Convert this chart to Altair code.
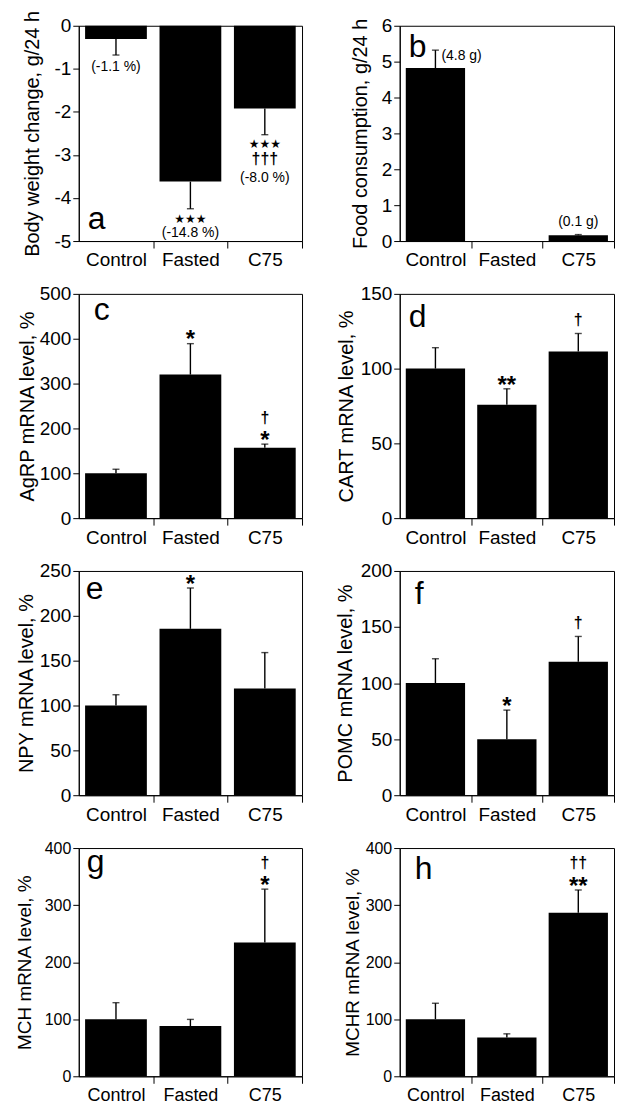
import altair as alt
import pandas as pd

groups = ["Control", "Fasted", "C75"]

bw_mean = [-0.31, -3.62, -1.92]
bw_sem = [0.37, 0.63, 0.61]
food_mean = [4.82, 0.0, 0.16]
food_sem = [0.50, 0.0, 0.02]
agrp_mean = [100, 320, 157]
agrp_sem = [9, 69, 8]
cart_mean = [100, 75.8, 111.5]
cart_sem = [14, 10.7, 12]
npy_mean = [100, 185.5, 119]
npy_sem = [12, 45.5, 40]
pomc_mean = [100, 50, 119]
pomc_sem = [21.7, 25.9, 22.6]
mch_mean = [100, 88, 234.5]
mch_sem = [29, 11.7, 93.5]
mchr_mean = [100, 68, 286.5]
mchr_sem = [28, 6.4, 40]

titles = ["Body weight change, g/24 h", "Food consumption, g/24 h",
          "AgRP mRNA level, %", "CART mRNA level, %",
          "NPY mRNA level, %", "POMC mRNA level, %",
          "MCH mRNA level, %", "MCHR mRNA level, %"]
letters = ["a", "b", "c", "d", "e", "f", "g", "h"]
domains = [[-5, 0], [0, 6], [0, 500], [0, 150], [0, 250], [0, 200], [0, 400], [0, 400]]
ticks = [[-5, -4, -3, -2, -1, 0], [0, 1, 2, 3, 4, 5, 6],
         [0, 100, 200, 300, 400, 500], [0, 50, 100, 150],
         [0, 50, 100, 150, 200, 250], [0, 50, 100, 150, 200],
         [0, 100, 200, 300, 400], [0, 100, 200, 300, 400]]

annots = [
    {"Control": ["(-1.1 %)"], "Fasted": ["★★★", "(-14.8 %)"], "C75": ["★★★", "†††", "(-8.0 %)"]},
    {"C75": ["(0.1 g)"]},
    {"Fasted": ["*"], "C75": ["*", "†"]},
    {"Fasted": ["**"], "C75": ["†"]},
    {"Fasted": ["*"]},
    {"Fasted": ["*"], "C75": ["†"]},
    {"C75": ["*", "†"]},
    {"C75": ["**", "††"]},
]
side_annots = [{}, {"Control": "(4.8 g)"}, {}, {}, {}, {}, {}, {}]

means = [bw_mean, food_mean, agrp_mean, cart_mean, npy_mean, pomc_mean, mch_mean, mchr_mean]
sems = [bw_sem, food_sem, agrp_sem, cart_sem, npy_sem, pomc_sem, mch_sem, mchr_sem]

# ---- styling ----
FONT = "Liberation Sans"
LEFT_W, RIGHT_W = 224, 215
heights = [216, 225, 225, 229]
title_pad = [12, 11, 2, 4, 3, 5, 10, 3]
letter_pos = [(9, 204), (9, 31), (15, 26), (9, 33), (7, 28), (15, 33), (8, 24), (15, 31)]

kinds = {
    "star": dict(font="DejaVu Sans", size=12, weight="normal", h=7, cf=0.36),
    "ast": dict(font=FONT, size=24, weight="bold", h=8, cf=0.575),
    "dag": dict(font=FONT, size=16, weight="bold", h=13, cf=0.27),
    "pct": dict(font=FONT, size=14, weight="normal", h=13, cf=0.26),
}


def kind_of(t):
    if "★" in t:
        return "star"
    if "*" in t:
        return "ast"
    if "†" in t:
        return "dag"
    return "pct"


def make_panel(i):
    n = len(groups)
    mean, sem = means[i], sems[i]
    sign = -1 if min(mean) < 0 else 1
    df = pd.DataFrame({"group": groups, "mean": mean, "sem": sem})
    df["end"] = df["mean"] + sign * df["sem"]
    w = LEFT_W if i % 2 == 0 else RIGHT_W
    h = heights[i // 2]
    row4 = i >= 6
    pI, pO = 0.17, 0.085
    step = w / (n - pI + 2 * pO)
    gap = pI * step

    xaxis = alt.Axis(title=None, labelAngle=0, labelFontSize=18 if row4 else 19,
                     labelPadding=3, tickSize=7, bandPosition=1,
                     tickOffset=gap / 2, labelOffset=-gap / 2, labelOverlap=False)
    yargs = dict(title=titles[i], values=ticks[i], grid=False, tickSize=6,
                 labelPadding=2, labelFontSize=16 if row4 else 19,
                 titleFontSize=19 if row4 else 20, titlePadding=title_pad[i],
                 titleFontWeight="normal")
    if sign < 0:
        yargs["labelExpr"] = "toString(datum.value)"
    yaxis = alt.Axis(**yargs)
    xs = alt.Scale(paddingInner=pI, paddingOuter=pO)
    ys = alt.Scale(domain=domains[i], nice=False)

    def X():
        return alt.X("group:N", sort=groups, scale=xs, axis=xaxis)

    def Y(f):
        return alt.Y(f"{f}:Q", scale=ys, axis=yaxis)

    base = alt.Chart(df)
    bars = base.mark_bar(color="black").encode(x=X(), y=Y("mean"))
    dfe = df[df["sem"] > 0]
    err = alt.Chart(dfe).mark_rule(color="black", strokeWidth=1.4).encode(
        x=X(), y=Y("mean"), y2="end:Q")
    cap = alt.Chart(dfe).mark_tick(color="black", thickness=1.4, size=7).encode(
        x=X(), y=Y("end"))
    layers = [bars, err, cap]

    for g, lines in annots[i].items():
        row = df[df["group"] == g]
        off = 6.0
        prev = None
        for t in lines:
            k = kinds[kind_of(t)]
            if prev is None:
                off = 6.0 + k["h"] / 2
            else:
                off = off + prev["h"] / 2 + 5.5 + k["h"] / 2
            prev = k
            dy = (-off if sign > 0 else off) + k["cf"] * k["size"]
            tdf = row.assign(label=t)
            layers.append(alt.Chart(tdf).mark_text(
                baseline="alphabetic", align="center", dy=dy, font=k["font"],
                fontSize=k["size"], fontWeight=k["weight"], color="black").encode(
                x=X(), y=Y("end"), text="label:N"))
    for g, t in side_annots[i].items():
        row = df[df["group"] == g].assign(label=t)
        layers.append(alt.Chart(row).mark_text(
            baseline="middle", align="left", dx=6, dy=6, font=FONT, fontSize=14,
            color="black").encode(x=X(), y=Y("end"), text="label:N"))

    lx, ly = letter_pos[i]
    layers.append(alt.Chart(pd.DataFrame({"t": [letters[i]]})).mark_text(
        align="left", baseline="alphabetic", font=FONT, fontSize=32,
        color="black").encode(text="t:N", x=alt.value(lx), y=alt.value(ly)))
    return alt.layer(*layers).properties(width=w, height=h)


panels = [make_panel(i) for i in range(8)]

chart = alt.concat(*panels, columns=2, spacing={"row": 53, "column": 98},
                   bounds="flush", align="each").properties(
    padding={"left": 6, "top": 0, "right": 0, "bottom": 0}
).configure(font=FONT).configure_view(
    stroke="black", strokeWidth=1
).configure_axis(
    domainColor="black", tickColor="black", labelColor="black", titleColor="black",
    domainWidth=1, tickWidth=1, labelFont=FONT, titleFont=FONT
)

chart.save("out.html", embed_options={"renderer": "svg", "actions": False})
